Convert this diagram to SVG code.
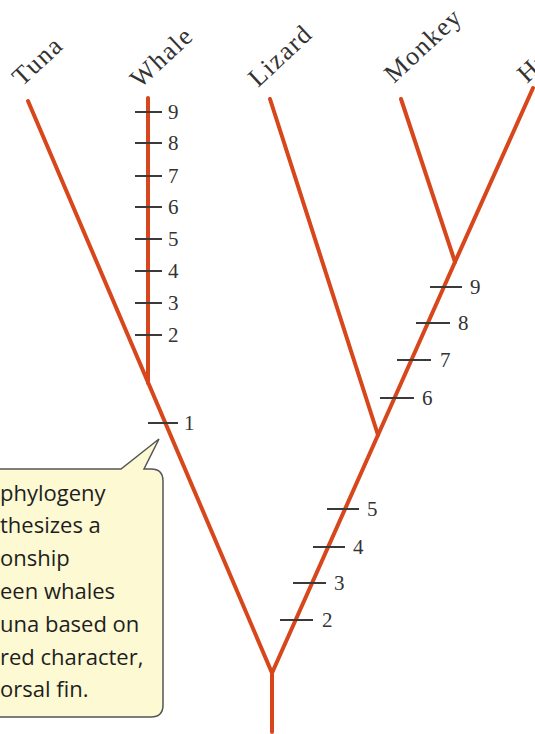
<svg xmlns="http://www.w3.org/2000/svg" width="535" height="734" viewBox="0 0 535 734">
<style>
.br{fill:none;stroke:#d8461b;stroke-width:4;stroke-linecap:round;stroke-linejoin:round}
.tk{stroke:#3a3a3a;stroke-width:2}
.num{font-family:"Liberation Serif",serif;font-size:21px;fill:#333}
.lab{font-family:"Liberation Serif",serif;font-size:26px;letter-spacing:1.5px;fill:#333}
.call{font-family:"Open Sans","Liberation Sans",sans-serif;font-size:22px;fill:#1e1e1e}
</style>
<rect width="535" height="734" fill="#fff"/>
<g id="labels">
<text class="lab" transform="translate(22,87) rotate(-43)">Tuna</text>
<text class="lab" transform="translate(140,89) rotate(-43)">Whale</text>
<text class="lab" transform="translate(258,88) rotate(-43)">Lizard</text>
<text class="lab" transform="translate(394,84) rotate(-43)">Monkey</text>
<text class="lab" transform="translate(527,84) rotate(-43)">Human</text>
</g>
<g id="connectors">
<path class="br" d="M272,732 V673 L28,101"/>
<path class="br" d="M148,383 V98"/>
<path class="br" d="M272,673 L378,435 L455,262 L533,88"/>
<path class="br" d="M378,435 L270,99"/>
<path class="br" d="M455,262 L401,99"/>
</g>
<g id="whale-ticks">
<line class="tk" x1="135" y1="112" x2="162" y2="112"/>
<line class="tk" x1="135" y1="143" x2="162" y2="143"/>
<line class="tk" x1="135" y1="176" x2="162" y2="176"/>
<line class="tk" x1="135" y1="207" x2="162" y2="207"/>
<line class="tk" x1="135" y1="239" x2="162" y2="239"/>
<line class="tk" x1="135" y1="271" x2="162" y2="271"/>
<line class="tk" x1="135" y1="303" x2="162" y2="303"/>
<line class="tk" x1="135" y1="335" x2="162" y2="335"/>
<text class="num" x="168" y="119">9</text>
<text class="num" x="168" y="150">8</text>
<text class="num" x="168" y="183">7</text>
<text class="num" x="168" y="214">6</text>
<text class="num" x="168" y="246">5</text>
<text class="num" x="168" y="278">4</text>
<text class="num" x="168" y="310">3</text>
<text class="num" x="168" y="342">2</text>
</g>
<g id="tick-1">
<line class="tk" x1="148" y1="423" x2="178" y2="423"/>
<text class="num" x="184" y="430">1</text>
</g>
<g id="right-ticks">
<line class="tk" x1="430" y1="287" x2="462" y2="287"/>
<line class="tk" x1="416" y1="323" x2="450" y2="323"/>
<line class="tk" x1="397" y1="360" x2="431" y2="360"/>
<line class="tk" x1="380" y1="398" x2="414" y2="398"/>
<line class="tk" x1="327" y1="509" x2="359" y2="509"/>
<line class="tk" x1="313" y1="547" x2="345" y2="547"/>
<line class="tk" x1="293" y1="583" x2="326" y2="583"/>
<line class="tk" x1="280" y1="620" x2="313" y2="620"/>
<text class="num" x="470" y="294">9</text>
<text class="num" x="458" y="330">8</text>
<text class="num" x="440" y="367">7</text>
<text class="num" x="422" y="405">6</text>
<text class="num" x="367" y="516">5</text>
<text class="num" x="353" y="554">4</text>
<text class="num" x="334" y="590">3</text>
<text class="num" x="322" y="627">2</text>
</g>
<g id="callout">
<path d="M-5,469 H121 L159,439 L144,469 H151 Q163,469 163,481 V705 Q163,717 151,717 H-5 Z" fill="#fcf9d3" stroke="#555" stroke-width="1.5"/>
<text class="call" x="0" y="501">phylogeny</text>
<text class="call" x="0" y="533">thesizes a</text>
<text class="call" x="0" y="566">onship</text>
<text class="call" x="0" y="599">een whales</text>
<text class="call" x="0" y="632">una based on</text>
<text class="call" x="0" y="665">red character,</text>
<text class="call" x="0" y="697">orsal fin.</text>
</g>
</svg>
